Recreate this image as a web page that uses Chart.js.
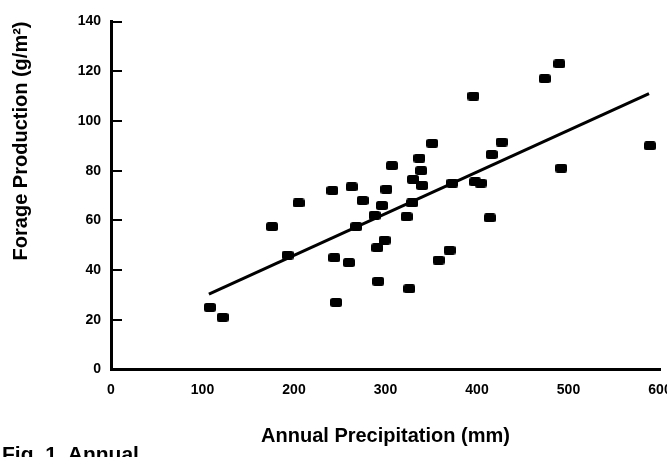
<!DOCTYPE html>
<html>
<head>
<meta charset="utf-8">
<script src="https://cdn.jsdelivr.net/npm/chart.js@4.4.1/dist/chart.umd.min.js"></script>
<style>
  html, body { margin: 0; padding: 0; background: #fff; overflow: hidden; }
  #wrap { position: relative; width: 667px; height: 457px; }
  #caption {
    position: absolute; left: 2px; top: 443px;
    font: bold 21px "Liberation Sans", Arial, sans-serif; line-height: 21px;
    color: #000; white-space: nowrap;
  }
</style>
</head>
<body>
<div id="wrap">
  <canvas id="chart" width="667" height="457"></canvas>
  <div id="caption">Fig. 1. Annual</div>
</div>
<script>
// --- data ---
const precipX = [108, 122, 176, 193, 205, 242, 244, 246, 260, 263,
                 268, 275, 288, 291, 299, 292, 296, 301, 307, 323,
                 326, 329, 330, 337, 339, 340, 351, 358, 370, 373,
                 396, 398, 404, 414, 416, 427, 474, 490, 492, 589];
const forageY = [25, 21, 57.5, 46, 67, 72, 45, 27, 43, 73.5,
                 57.5, 68, 62, 49, 52, 35.5, 66, 72.5, 82, 61.5,
                 32.5, 67, 76.5, 85, 80, 74, 91, 44, 48, 75,
                 110, 75.5, 75, 61, 86.5, 91.5, 117, 123, 81, 90];
// fitted line, two ends
const trendX = [107, 588];
const trendY = [30.3, 111];

const xTicks = [0, 100, 200, 300, 400, 500, 600];
const yTicks = [0, 20, 40, 60, 80, 100, 120, 140];

const FONT = '"Liberation Sans", Arial, Helvetica, sans-serif';
Chart.defaults.color = '#000';
Chart.defaults.font.family = FONT;

// little rounded black block used as the marker
function makeMarker() {
    const c = document.createElement('canvas');
    c.width = 12; c.height = 9;
    const g = c.getContext('2d');
    g.fillStyle = '#000';
    g.beginPath();
    g.roundRect(0, 0, 12, 9, 2.5);
    g.fill();
    return c;
}

// short tick marks pointing into the plot on the y axis
const innerTicks = {
    id: 'innerTicks',
    afterDraw(chart) {
        const { ctx, chartArea, scales: { y } } = chart;
        ctx.save();
        ctx.strokeStyle = '#000';
        ctx.lineWidth = 2;
        y.ticks.forEach(t => {
            if (t.value === 0) return;
            const py = Math.round(y.getPixelForValue(t.value));
            ctx.beginPath();
            ctx.moveTo(chartArea.left, py);
            ctx.lineTo(chartArea.left + 11, py);
            ctx.stroke();
        });
        ctx.restore();
    }
};

const points = precipX.map((x, i) => ({ x, y: forageY[i] }));
const trend = trendX.map((x, i) => ({ x, y: trendY[i] }));

new Chart(document.getElementById('chart'), {
    type: 'scatter',
    data: {
        datasets: [
            {
                label: 'Forage',
                data: points,
                pointStyle: makeMarker(),
                pointRadius: 6,
                backgroundColor: '#000',
                borderColor: '#000'
            },
            {
                type: 'line',
                label: 'Fit',
                data: trend,
                showLine: true,
                pointRadius: 0,
                borderColor: '#000',
                borderWidth: 3,
                fill: false
            }
        ]
    },
    options: {
        responsive: false,
        animation: false,
        events: [],
        layout: { padding: { top: 21.5, right: 6, left: 0, bottom: 0 } },
        plugins: { legend: { display: false }, tooltip: { enabled: false } },
        scales: {
            x: {
                type: 'linear', min: 0, max: 600,
                afterBuildTicks: s => { s.ticks = xTicks.map(v => ({ value: v })); },
                afterFit: s => { s.height = 87.5; s.paddingLeft = 0; s.paddingRight = 0; },
                grid: { display: false, drawTicks: false },
                border: { display: true, color: '#000', width: 3 },
                ticks: { padding: 12, font: { size: 14, weight: 'bold' }, autoSkip: false, maxRotation: 0 },
                title: {
                    display: true, text: 'Annual Precipitation (mm)',
                    font: { size: 20, weight: 'bold' }, padding: { top: 0, bottom: 9 }
                }
            },
            y: {
                type: 'linear', min: 0, max: 140,
                afterBuildTicks: s => { s.ticks = yTicks.map(v => ({ value: v })); },
                afterFit: s => { s.width = 111; },
                grid: { display: false, drawTicks: false },
                border: { display: true, color: '#000', width: 3 },
                ticks: { padding: 10, font: { size: 14, weight: 'bold' } },
                title: {
                    display: true, text: 'Forage Production (g/m²)', align: 'end',
                    font: { size: 20, weight: 'bold' }, padding: { top: 9, bottom: 0 }
                }
            }
        }
    },
    plugins: [innerTicks]
});
</script>
</body>
</html>
